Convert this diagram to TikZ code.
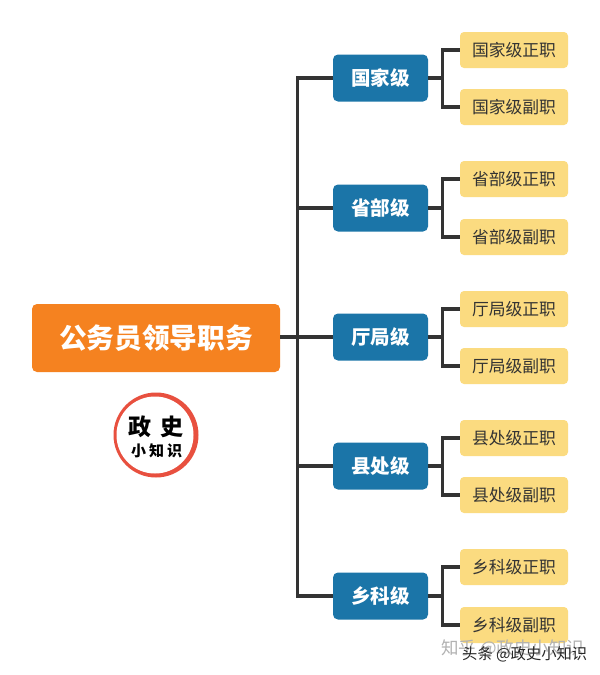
\documentclass[tikz,border=0pt]{standalone}
\usepackage{fontspec}
\setmainfont{Noto Sans CJK SC}
\definecolor{orangebox}{HTML}{F58220}
\definecolor{bluebox}{HTML}{1B75A8}
\definecolor{yellowbox}{HTML}{FBDB80}
\definecolor{linecol}{HTML}{333333}
\definecolor{ringred}{HTML}{E8503F}
\newcommand{\lowered}[1]{\raisebox{-1pt}{#1}}
\tikzset{
  rootbox/.style={fill=orangebox,rounded corners=5pt,minimum width=248pt,minimum height=68pt,inner sep=0pt,text=white,font=\fontsize{27.7}{32}\selectfont\bfseries},
  levelbox/.style={fill=bluebox,rounded corners=5pt,minimum width=95pt,minimum height=47pt,inner sep=0pt,text=white,font=\fontsize{19.5}{22}\selectfont\bfseries},
  postbox/.style={fill=yellowbox,rounded corners=4pt,minimum width=108pt,minimum height=36pt,inner sep=0pt,text=black!80,font=\fontsize{16.8}{20}\selectfont},
  conn/.style={draw=linecol,line width=3.2pt},
}
\begin{document}
\begin{tikzpicture}[x=1pt,y=-1pt]
\useasboundingbox (0,0) rectangle (600,675);
\fill[white] (0,0) rectangle (600,675);

\coordinate (sp) at (297.5,337);
\node[rootbox] (root) at (156,338) {公务员领导职务};
\foreach \n/\lab/\yl/\ya/\yb in {a/国家级/78/50/107, b/省部级/208/179/237, c/厅局级/337/309/366, d/县处级/466/438/495, e/乡科级/596/567/625}{
  \node[levelbox] (L\n) at (380.5,\yl) {\lab};
  \node[postbox] (P\n1) at (514,\ya) {\lowered{\lab 正职}};
  \node[postbox] (P\n2) at (514,\yb) {\lowered{\lab 副职}};
  \coordinate (S\n) at (442.5,\yl);
  \draw[conn] (S\n |- P\n1.west) -- (P\n1.west);
  \draw[conn] (S\n |- P\n2.west) -- (P\n2.west);
  \draw[conn] ([yshift=1.6pt]S\n |- P\n1.west) -- ([yshift=-1.6pt]S\n |- P\n2.west);
  \draw[conn] (L\n.east) -- (S\n);
  \draw[conn] (sp |- L\n.west) -- (L\n.west);
}
\draw[conn] ([yshift=1.6pt]sp |- La.west) -- ([yshift=-1.6pt]sp |- Le.west);
\draw[conn] (root.east |- Lc.west) -- (Lc.west);

% logo: brush ring, heavier on the right, thin on the left
\coordinate (logo) at (156,435);
\fill[ringred] (logo) circle (42.5);
\fill[white] (155,435) circle (38.5);
\node[font=\fontsize{23}{28}\selectfont\bfseries,text=black] (logo1) at (156,427) {政\hspace{9pt}史};
\node[font=\fontsize{15}{18}\selectfont\bfseries,text=black] (logo2) at (156.5,451) {小\hspace{3pt}知\hspace{3pt}识};

% watermarks
\node[font=\fontsize{17.5}{20}\selectfont,text=black!30,anchor=west,inner sep=0pt] (wm1) at (441,649) {知乎 @政史小知识};
\node[font=\fontsize{15.3}{18}\selectfont,text=black!85,anchor=west,inner sep=0pt] (wm2) at (462,654.5) {头条 @政史小知识};
\end{tikzpicture}
\end{document}
